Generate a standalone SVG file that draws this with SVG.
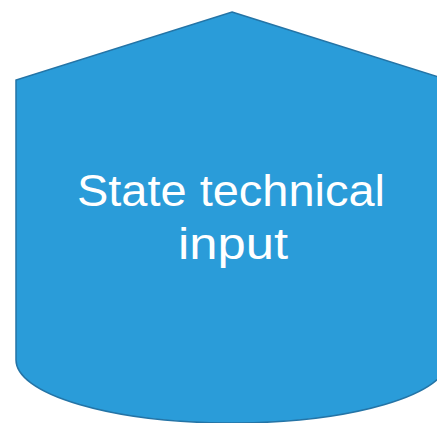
<svg xmlns="http://www.w3.org/2000/svg" width="437" height="423" viewBox="0 0 437 423">
<style>
.shape{fill:#2A9CD9;stroke:#2474A6;stroke-width:1.5}
.lbl{font-family:"Liberation Sans",Arial,sans-serif;font-size:44px;fill:#FFFFFF;text-anchor:middle}
</style>
<g id="node-state-technical-input">
<path class="shape" d="M232,12 L448,80 L448,360 A216,63 0 0 1 16,360 L16,80 Z"/>
<text class="lbl" x="231" y="206" textLength="308" lengthAdjust="spacingAndGlyphs">State technical</text>
<text class="lbl" x="233" y="259" textLength="110" lengthAdjust="spacingAndGlyphs">input</text>
</g>
<g id="connectors"/>
</svg>
